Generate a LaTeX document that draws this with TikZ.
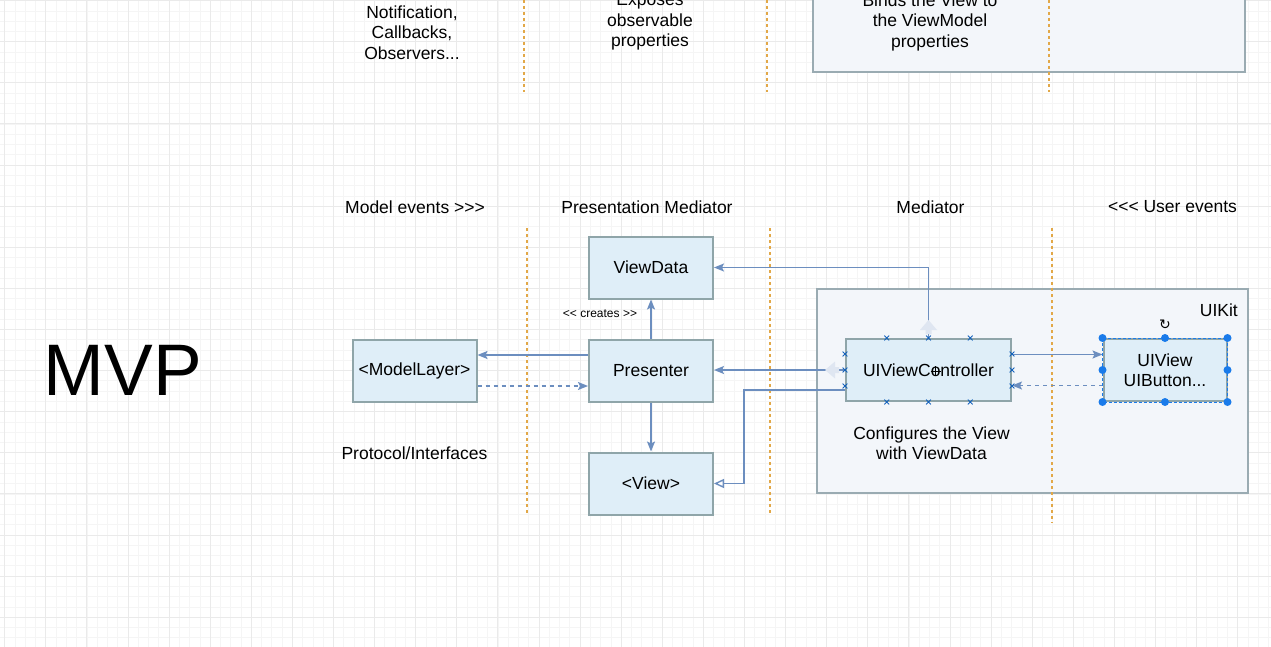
\documentclass[tikz,border=0pt]{standalone}
\usepackage{fontspec}
\setmainfont{Liberation Sans}
\newfontfamily\symfont{DejaVu Sans}
\usetikzlibrary{arrows.meta,calc,shapes.misc}
\definecolor{boxfill}{HTML}{DFEEF8}
\definecolor{boxline}{HTML}{8FA5A9}
\definecolor{kitfill}{HTML}{F3F6FA}
\definecolor{kitline}{HTML}{9AABB2}
\definecolor{arrc}{HTML}{6C8EBF}
\definecolor{orangeline}{HTML}{E2A848}
\definecolor{selc}{HTML}{1A7BEA}
\definecolor{gridmajor}{HTML}{EAEAEA}
\definecolor{gridminor}{HTML}{F5F5F5}
\tikzset{
  box/.style={draw=boxline, line width=2pt, fill=boxfill, minimum width=124pt, minimum height=62pt, inner sep=0pt, font=\fontsize{17.5}{20.5}\selectfont, align=center},
  lbl/.style={inner sep=0pt, font=\fontsize{17.5}{20.5}\selectfont, align=center},
  conn/.style={draw=arrc, line width=1.4pt, -{Stealth[length=10pt,width=8pt,inset=2pt]}},
  dconn/.style={conn, dash pattern=on 4pt off 4pt},
  sep/.style={draw=orangeline, line width=1.6pt, dash pattern=on 3pt off 3pt},
  handle/.style={circle, fill=selc, inner sep=0pt, minimum size=8pt},
  cmark/.style={cross out, draw=selc!80!black, minimum size=4pt, inner sep=0pt, line width=0.8pt},
}
\begin{document}
\begin{tikzpicture}[x=1pt,y=-1pt]
\useasboundingbox (0,0) rectangle (1271,647);
\fill[white] (0,0) rectangle (1271,647);
% grid
\foreach \i in {0,...,123} \draw[gridminor, line width=0.8pt] ({4.7+10.275*\i},0) -- ({4.7+10.275*\i},647);
\foreach \j in {0,...,62} \draw[gridminor, line width=0.8pt] (0,{0.7+10.275*\j}) -- (1271,{0.7+10.275*\j});
\foreach \i in {0,...,30} \draw[gridmajor, line width=1pt] ({4.7+41.1*\i},0) -- ({4.7+41.1*\i},647);
\foreach \j in {0,...,15} \draw[gridmajor, line width=1pt] (0,{0.7+41.1*\j}) -- (1271,{0.7+41.1*\j});

% top section
\draw[draw=kitline, fill=kitfill, line width=2pt] (813,-10) rectangle (1245,72);
\node[lbl] (notif) at (412,32.5) {Notification,\\Callbacks,\\Observers...};
\node[lbl] (expose) at (650,22) {Exposes\\observable\\properties};
\node[lbl] (binds) at (930,22) {Binds the View to\\the ViewModel\\properties};
\draw[sep] (524,0) -- (524,92);
\draw[sep] (767,0) -- (767,92);
\draw[sep] (1049,0) -- (1049,92);

% headers
\node[lbl] (h1) at (415,207) {Model events >{}>{}>};
\node[lbl] (h2) at (647,207) {Presentation Mediator};
\node[lbl] (h3) at (930.5,207) {Mediator};
\node[lbl] (h4) at (1172.5,207) {<{}<{}< User events};

\node[inner sep=0pt, font=\fontsize{73}{73}\selectfont] (mvp) at (123,370) {MVP};

% separators
\draw[sep] (527,228) -- (527,514);
\draw[sep] (770,228) -- (770,514);

% UIKit container
\draw[draw=kitline, fill=kitfill, line width=2pt] (817,289) rectangle (1248,493);
\node[lbl, anchor=east] (uikit) at (1238,310) {UIKit};
\draw[sep] (1052,228) -- (1052,523);

% boxes
\node[box] (viewdata) at (651,267.5) {ViewData};
\node[box] (presenter) at (651,370.5) {Presenter};
\node[box] (model) at (414.5,370.5) {<ModelLayer>};
\node[box] (view) at (651,483.5) {<View>};
\node[box, minimum width=165pt] (uivc) at (928.5,370) {UIViewController};
\node[box, minimum width=123pt] (uiview) at (1165,370) {UIView\\UIButton...};

\node[lbl] (protocol) at (414.5,453) {Protocol/Interfaces};
\node[lbl] (config) at (931.5,443) {Configures the View\\with ViewData};
\node[inner sep=0pt, font=\fontsize{12}{14}\selectfont] (creates) at (600,314) {<{}< creates >{}>};

% connectors
\draw[conn] ([yshift=15.5pt]presenter.west) -- ([yshift=15.5pt]model.east);
\draw[dconn] ([yshift=-15.5pt]model.east) -- ([yshift=-15.5pt]presenter.west);
\draw[conn] (presenter.north) -- (viewdata.south);
\draw[conn] (presenter.south) -- (view.north);
\draw[conn] (uivc.north) |- (viewdata.east);
\draw[conn] (uivc.west) -- (uivc.west -| presenter.east);
\draw[draw=arrc, line width=1.4pt, -{Triangle[open, length=10pt, width=9pt, fill=white]}] ([yshift=-20pt]uivc.west) -| ([xshift=30pt]view.east) -- (view.east);
\draw[conn] ([yshift=15.5pt]uivc.east) -- ([yshift=15.5pt]uiview.west);
\draw[dconn] ([yshift=-15.5pt]uiview.west) -- ([yshift=-15.5pt]uivc.east);

% hover arrows (faint)
\fill[arrc!22] (928.5,320) -- (937,330) -- (931.5,330) -- (931.5,334) -- (925.5,334) -- (925.5,330) -- (920,330) -- cycle;
\fill[arrc!22] (825,370) -- (835,361.5) -- (835,367) -- (839,367) -- (839,373) -- (835,373) -- (835,378.5) -- cycle;

% connection marks on UIViewController
\foreach \f in {0.25,0.5,0.75} {
  \node[cmark] at ($(uivc.north west)!\f!(uivc.north east)$) {};
  \node[cmark] at ($(uivc.south west)!\f!(uivc.south east)$) {};
  \node[cmark] at ($(uivc.north west)!\f!(uivc.south west)$) {};
  \node[cmark] at ($(uivc.north east)!\f!(uivc.south east)$) {};
}
% cursor
\draw[black, line width=0.9pt] (930.5,371) -- (940.5,371) (935.5,366) -- (935.5,376);

% selection of UIView
\draw[selc, line width=1pt, dash pattern=on 3pt off 2pt] (uiview.north west) rectangle (uiview.south east);
\foreach \a in {north west,north,north east,west,east,south west,south,south east}
  \node[handle] at (uiview.\a) {};
\node[inner sep=0pt, font=\symfont\fontsize{14}{14}\selectfont] (rot) at (1165,325) {↻};
\end{tikzpicture}
\end{document}
